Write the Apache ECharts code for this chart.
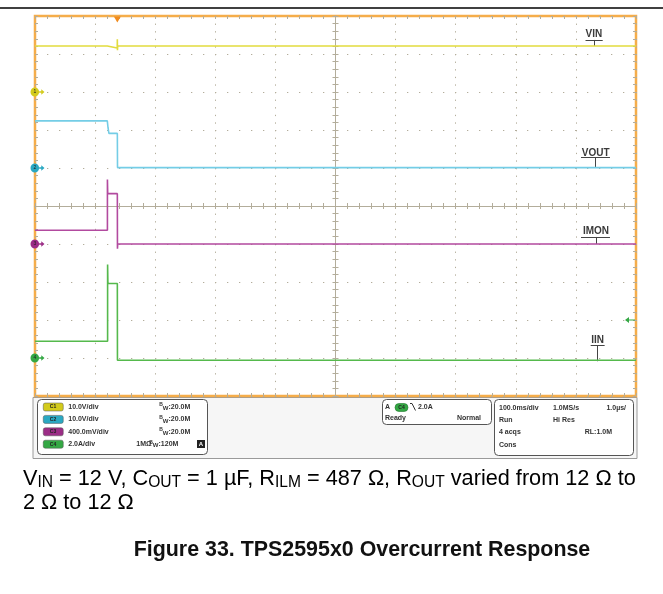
<!DOCTYPE html>
<html><head><meta charset="utf-8">
<script src="https://cdn.jsdelivr.net/npm/echarts@6/dist/echarts.min.js"></script>
<style>html,body{margin:0;padding:0;background:#fff}#c{width:663px;height:594px}</style>
</head><body><div id="c"></div>
<script>
// ---- data (time in ms, 100 ms/div; values in channel units) ----
const channelNames = ['VIN', 'VOUT', 'IMON', 'IIN'];
const channelTags = ['C1', 'C2', 'C3', 'C4'];
const channelScales = ['10.0V/div', '10.0V/div', '400.0mV/div', '2.0A/div'];
const channelBW = ['20.0M', '20.0M', '20.0M', '120M'];
const vinData = [[0, 12.1], [120.3, 12.1], [120.6, 11.6], [136.8, 11.6], [137, 13.9], [137.2, 11.0], [137.6, 12.1], [1000, 12.1]];
const voutData = [[0, 12.4], [120.3, 12.4], [121.5, 10.6], [123, 9.1], [137, 9.1], [137.3, 0.1], [1000, 0.1]];
const imonData = [[0, 0.145], [120.5, 0.145], [120.5, 0.68], [121, 0.53], [137, 0.53], [137.2, -0.05], [137.6, 0.0], [1000, 0.0]];
const iinData = [[0, 0.88], [120.8, 0.88], [120.8, 4.92], [121.3, 3.92], [137, 3.92], [137.2, -0.12], [1000, -0.12]];
const triggerTime = 137;      // ms
const triggerLevel = 2.0;     // A
const horizInfo = [['100.0ms/div', '1.0MS/s', '1.0µs/'], ['Run', 'Hi Res', ''], ['4 acqs', '', 'RL:1.0M'], ['Cons', '', '']];
const captionLine1 = [['V', 'IN'], [' = 12 V, C', 'OUT'], [' = 1 µF, R', 'ILM'], [' = 487 Ω, R', 'OUT'], [' varied from 12 Ω to', '']];
const captionLine2 = '2 Ω to 12 Ω';
const figureTitle = 'Figure 33. TPS2595x0 Overcurrent Response';

const colors = ['#e2dc3e', '#74cde6', '#b24a9f', '#55b94c'];
const markColors = ['#d3cb1c', '#2aa8c2', '#9b2d86', '#34a844'];
const gratColor = '#b3ad9b';
const SANS = '"Liberation Sans", Arial, Helvetica, sans-serif';

const labelDefs = [
  { text: 'VIN', t: 930, ty: 15.3, uy: 13.7, u0: 916, u1: 944.6, tr: 12.1 },
  { text: 'VOUT', t: 933, ty: 4.0, uy: 2.7, u0: 908.5, u1: 956.7, tr: 0.1 },
  { text: 'IMON', t: 933.4, ty: 0.137, uy: 0.074, u0: 908.5, u1: 956.7, tr: 0.0 },
  { text: 'IIN', t: 936, ty: 0.93, uy: 0.67, u0: 924.6, u1: 947.8, tr: -0.17 }
];
const markerPath = 'path://M8,4 A4,4 0 1 1 0,4 A4,4 0 1 1 8,4 Z M8,3.4 L10,3.4 L10,1.5 L13,4 L10,6.5 L10,4.6 L8,4.6 Z';

const datas = [vinData, voutData, imonData, iinData];
const series = channelNames.map((n, i) => {
  const L = labelDefs[i];
  const mpData = [
    { coord: [0, 0], symbol: markerPath, symbolSize: [14, 9], symbolOffset: [2.5, 0],
      itemStyle: { color: markColors[i] },
      label: { show: true, formatter: String(i + 1), fontSize: 5, color: '#222', offset: [-2.5, 0], position: 'inside' } },
    { coord: [L.t, L.ty], symbol: 'rect', symbolSize: 1, itemStyle: { color: 'rgba(0,0,0,0)' },
      label: { show: true, formatter: L.text, position: 'inside', fontSize: 10, fontWeight: 'bold', color: '#3a3a3a', fontFamily: SANS } }
  ];
  if (i === 0) {
    mpData.push({ coord: [triggerTime, 20], symbol: 'triangle', symbolRotate: 180, symbolSize: [7, 6], symbolOffset: [0, 3.5],
      itemStyle: { color: '#f08b1e' }, label: { show: false } });
  }
  if (i === 3) {
    mpData.push({ coord: [1000, triggerLevel], symbol: 'path://M0,3 L4,0 L4,2.4 L10,2.4 L10,3.6 L4,3.6 L4,6 Z', symbolSize: [10, 6], symbolOffset: [-6, 0],
      itemStyle: { color: markColors[3] }, label: { show: false } });
  }
  return {
    name: n, type: 'line', xAxisIndex: 0, yAxisIndex: i, data: datas[i],
    showSymbol: false, animation: false, z: 5 + i,
    lineStyle: { color: colors[i], width: 1.6 }, itemStyle: { color: colors[i] },
    markPoint: { silent: true, animation: false, data: mpData },
    markLine: { silent: true, animation: false, symbol: ['none', 'none'], label: { show: false },
      lineStyle: { color: '#444', width: 1, type: 'solid' },
      data: [
        [{ coord: [L.u0, L.uy] }, { coord: [L.u1, L.uy] }],
        [{ coord: [L.t, L.uy] }, { coord: [L.t, L.tr] }]
      ] }
  };
});

const chanAxes = [[-80, 20], [-60, 40], [-1.6, 2.4], [-2, 18]];
const hid = { axisLabel: { show: false }, splitLine: { show: false } };
function tickAx(pos, onZero, zeroIdx, inside, lineShow) {
  return Object.assign({ type: 'value', min: -5, max: 5, interval: 0.2, position: pos,
    axisLine: { show: lineShow, onZero: onZero, onZeroAxisIndex: zeroIdx, lineStyle: { color: gratColor, width: 1 } },
    axisTick: { show: true, inside: inside, length: 3, lineStyle: { color: gratColor, width: 1 } } }, hid);
}
const xAxes = [
  { type: 'value', min: 0, max: 1000, show: false },
  tickAx('bottom', true, 4, true, true),
  tickAx('bottom', true, 4, false, true),
  tickAx('top', false, 0, true, false),
  tickAx('bottom', false, 0, true, false),
  { type: 'value', min: -5, max: 5, interval: 1, position: 'bottom', axisLine: { show: false, onZero: false }, axisTick: { show: false }, axisLabel: { show: false },
    splitLine: { show: true, lineStyle: { color: gratColor, width: 1, type: [1.3, 6.3] } } }
];
const yAxes = chanAxes.map(a => ({ type: 'value', min: a[0], max: a[1], show: false }));
yAxes.push(tickAx('left', true, 1, true, true));
yAxes.push(tickAx('left', true, 1, false, true));
yAxes.push(tickAx('left', false, 0, true, false));
yAxes.push(tickAx('right', false, 0, true, false));
yAxes.push({ type: 'value', min: -5, max: 5, interval: 1, position: 'left', axisLine: { show: false, onZero: false }, axisTick: { show: false }, axisLabel: { show: false },
  splitLine: { show: true, lineStyle: { color: gratColor, width: 1, type: [1.3, 10.7] } } });

const F7 = 'bold 7px ' + SANS;
function txt(s, x, y, align, font, fill) {
  return { type: 'text', silent: true, style: { text: s, x: x, y: y, font: font || F7, fill: fill || '#333',
    align: align || 'left', verticalAlign: 'middle', textAlign: align || 'left', textVerticalAlign: 'middle' } };
}
const graphics = [
  { type: 'line', silent: true, shape: { x1: 0, y1: 8, x2: 663, y2: 8 }, style: { stroke: '#000', lineWidth: 1.5 } },
  { type: 'rect', silent: true, z: -1, shape: { x: 33, y: 397.5, width: 604, height: 61 }, style: { fill: '#f6f6f6', stroke: '#9a9a9a', lineWidth: 1 } },
  { type: 'rect', silent: true, shape: { x: 37.5, y: 399.5, width: 170, height: 55, r: 4 }, style: { fill: '#fff', stroke: '#555', lineWidth: 1 } },
  { type: 'rect', silent: true, shape: { x: 382.5, y: 399.5, width: 109, height: 25, r: 4 }, style: { fill: '#fff', stroke: '#555', lineWidth: 1 } },
  { type: 'rect', silent: true, shape: { x: 494.5, y: 399.5, width: 139, height: 56, r: 4 }, style: { fill: '#fff', stroke: '#555', lineWidth: 1 } }
];
channelTags.forEach((t, i) => graphics.push(Object.assign(txt(t, 53, 407 + 12.4 * i, 'center', 'bold 5px ' + SANS, '#222'), { z: 200 })));
graphics.push({ type: 'rect', silent: true, shape: { x: 197, y: 440, width: 8, height: 8 }, style: { fill: '#222' } });
graphics.push(Object.assign(txt('A', 201, 444.5, 'center', 'bold 6px ' + SANS, '#fff'), { z: 200 }));
// trigger box
graphics.push(txt('A', 385, 407.5));
graphics.push({ type: 'rect', silent: true, shape: { x: 395, y: 403.5, width: 13, height: 8, r: 4 }, style: { fill: '#34a844', stroke: '#1f7a2e', lineWidth: 0.6 } });
graphics.push(txt('C4', 401.5, 407.5, 'center', 'bold 5px ' + SANS, '#222'));
graphics.push({ type: 'polyline', silent: true, shape: { points: [[410, 403.5], [412, 403.5], [415.5, 410.5]] }, style: { stroke: '#333', lineWidth: 1, fill: null } });
graphics.push(txt('2.0A', 418, 407.5));
graphics.push(txt('Ready', 385, 418.5));
graphics.push(txt('Normal', 481, 418.5, 'right'));
// horizontal box
const hCols = [[499, 'left'], [553, 'left'], [626, 'right']];
const hColsRow3 = [[499, 'left'], [553, 'left'], [612, 'right']];
horizInfo.forEach((row, r) => row.forEach((s, c) => {
  if (!s) return;
  const col = (r === 2 ? hColsRow3 : hCols)[c];
  graphics.push(txt(s, col[0], 407.7 + 12.4 * r, col[1]));
}));

// caption: size chosen so that line 1 spans the text column (x 23 .. 636)
const SUBR = 0.72;
const mctx = document.createElement('canvas').getContext('2d');
function w100(s, bold) { mctx.font = (bold ? 'bold ' : '') + '100px ' + SANS; return mctx.measureText(s).width; }
let line1W = 0;
captionLine1.forEach(p => { line1W += w100(p[0]) + SUBR * w100(p[1]); });
const capSize = Math.round(613 * 100 / line1W * 10) / 10;
const titleSize = Math.round(456 * 100 / w100(figureTitle, true) * 10) / 10;
const capRich = {
  n: { fontSize: capSize, fontFamily: SANS, color: '#111', lineHeight: capSize * 1.1 },
  s: { fontSize: capSize * SUBR, fontFamily: SANS, color: '#111', lineHeight: capSize * 1.1, padding: [capSize * 0.3, 0, 0, 0] }
};
let cap1 = '';
captionLine1.forEach(p => { cap1 += '{n|' + p[0] + '}' + (p[1] ? '{s|' + p[1] + '}' : ''); });
graphics.push({ type: 'text', silent: true, x: 23, y: 479, style: {
  text: cap1, rich: capRich, verticalAlign: 'middle', textVerticalAlign: 'middle' } });
graphics.push({ type: 'text', silent: true, x: 23, y: 503, style: {
  text: '{n|' + captionLine2 + '}', rich: capRich, verticalAlign: 'middle', textVerticalAlign: 'middle' } });
graphics.push({ type: 'text', silent: true, x: 362, y: 550, style: {
  text: figureTitle, font: 'bold ' + titleSize + 'px ' + SANS, fill: '#111',
  align: 'center', textAlign: 'center', verticalAlign: 'middle', textVerticalAlign: 'middle' } });

const legendRich = {
  a: { width: 91, fontSize: 7, fontWeight: 'bold', lineHeight: 9, color: '#333' },
  a4: { width: 68, fontSize: 7, fontWeight: 'bold', lineHeight: 9, color: '#333' },
  m: { width: 13, fontSize: 7, fontWeight: 'bold', lineHeight: 9, color: '#333' },
  b: { fontSize: 5, fontWeight: 'bold', lineHeight: 9, verticalAlign: 'top', color: '#333' },
  w: { fontSize: 6, fontWeight: 'bold', lineHeight: 9, verticalAlign: 'bottom', color: '#333' },
  c: { fontSize: 7, fontWeight: 'bold', lineHeight: 9, color: '#333' }
};

const option = {
  backgroundColor: '#ffffff',
  animation: false,
  textStyle: { fontFamily: SANS },
  grid: { left: 35, top: 16, width: 601, height: 380, show: true, borderColor: '#f5ad4a', borderWidth: 2.5, backgroundColor: 'transparent' },
  xAxis: xAxes,
  yAxis: yAxes,
  legend: {
    orient: 'vertical', left: 43, top: 402.5, itemWidth: 20, itemHeight: 8, itemGap: 3.4, icon: 'roundRect',
    selectedMode: false, padding: 0,
    data: channelNames.map((n, i) => ({ name: n, itemStyle: { color: markColors[i], borderColor: '#555', borderWidth: 0.5 } })),
    formatter: function (name) {
      const i = channelNames.indexOf(name);
      if (i === 3) return '{a4|' + channelScales[i] + '}{m|1MΩ}{b|B}{w|W}{c|:' + channelBW[i] + '}';
      return '{a|' + channelScales[i] + '}{b|B}{w|W}{c|:' + channelBW[i] + '}';
    },
    textStyle: { fontSize: 7, fontWeight: 'bold', color: '#333', rich: legendRich }
  },
  series: series,
  graphic: graphics
};
const chart = echarts.init(document.getElementById('c'));
chart.setOption(option);
</script></body></html>
